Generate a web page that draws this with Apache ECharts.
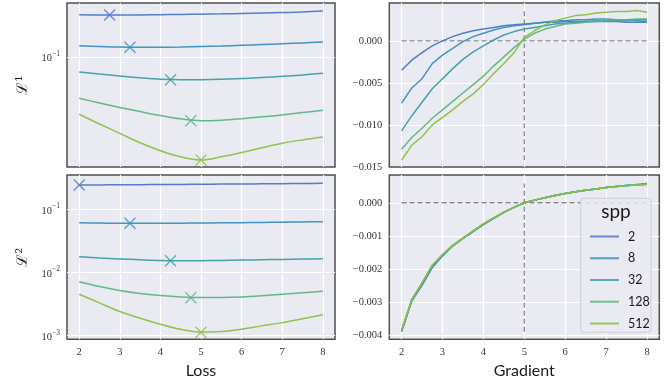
<!DOCTYPE html>
<html><head><meta charset="utf-8">
<script src="https://cdn.jsdelivr.net/npm/echarts@6/dist/echarts.min.js"></script>
<style>html,body{margin:0;padding:0;background:#fff}#c{width:672px;height:386px}</style>
</head><body><div id="c"></div>
<script>
// ---------- data ----------
const sppNames = ['2', '8', '32', '128', '512'];
const xLoss = [2, 2.5, 3, 3.5, 4, 4.5, 5, 5.5, 6, 6.5, 7, 7.5, 8];
const xGrad = [2, 2.25, 2.5, 2.75, 3, 3.25, 3.5, 3.75, 4, 4.25, 4.5, 4.75, 5,
               5.25, 5.5, 5.75, 6, 6.25, 6.5, 6.75, 7, 7.25, 7.5, 7.75, 8];

// L1 loss (top-left)
const l1_2   = [0.2175, 0.2170, 0.2167, 0.2170, 0.2178, 0.2188, 0.2200, 0.2214, 0.2230, 0.2248, 0.2268, 0.2290, 0.2330];
const l1_8   = [0.1231, 0.1213, 0.1200, 0.1196, 0.1198, 0.1202, 0.1213, 0.1225, 0.1240, 0.1256, 0.1275, 0.1296, 0.1318];
const l1_32  = [0.0759, 0.0731, 0.0705, 0.0682, 0.0664, 0.0658, 0.0659, 0.0664, 0.0672, 0.0685, 0.0700, 0.0718, 0.0741];
const l1_128 = [0.0467, 0.0429, 0.0395, 0.0366, 0.0340, 0.0320, 0.0309, 0.0312, 0.0321, 0.0332, 0.0344, 0.0359, 0.0375];
const l1_512 = [0.0348, 0.0291, 0.0245, 0.0206, 0.0178, 0.0159, 0.0150, 0.0159, 0.0172, 0.0188, 0.0204, 0.0217, 0.0229];
const l1MinX = [2.75, 3.25, 4.25, 4.75, 5];
const l1MinY = [0.2166, 0.1196, 0.0657, 0.0309, 0.0150];

// L2 loss (bottom-left)
const l2_2   = [0.2424, 0.2432, 0.2442, 0.2453, 0.2465, 0.2478, 0.2491, 0.2504, 0.2517, 0.2530, 0.2543, 0.2560, 0.2578];
const l2_8   = [0.0614, 0.0607, 0.0602, 0.0601, 0.0602, 0.0604, 0.0607, 0.0611, 0.0615, 0.0620, 0.0625, 0.0631, 0.0637];
const l2_32  = [0.0178, 0.0170, 0.0164, 0.0159, 0.0155, 0.0154, 0.0154, 0.0155, 0.0157, 0.0159, 0.0161, 0.0163, 0.0165];
const l2_128 = [0.00715, 0.00600, 0.00520, 0.00466, 0.00432, 0.00410, 0.00401, 0.00402, 0.00410, 0.00428, 0.00452, 0.00478, 0.00504];
const l2_512 = [0.00452, 0.00330, 0.00242, 0.00189, 0.00152, 0.00126, 0.00114, 0.00117, 0.00127, 0.00143, 0.00161, 0.00186, 0.00214];
const l2MinX = [2, 3.25, 4.25, 4.75, 5];
const l2MinY = [0.2424, 0.0600, 0.01538, 0.00400, 0.00113];

// L1 gradient (top-right)
const g1_2   = [-0.0035, -0.0023, -0.0014, -0.0006, 0.0000, 0.0005, 0.0009, 0.0012, 0.0014, 0.0016, 0.0018, 0.0019, 0.0020,
                0.0021, 0.0022, 0.0022, 0.0023, 0.0023, 0.0023, 0.0023, 0.0023, 0.0023, 0.0022, 0.0022, 0.0022];
const g1_8   = [-0.0074, -0.0056, -0.0045, -0.0027, -0.0017, -0.0009, -0.0001, 0.0005, 0.0009, 0.0013, 0.0016, 0.0018, 0.0019,
                0.0021, 0.0022, 0.0024, 0.0024, 0.0025, 0.0025, 0.0026, 0.0026, 0.0025, 0.0025, 0.0024, 0.0023];
const g1_32  = [-0.0107, -0.0089, -0.0073, -0.0057, -0.0045, -0.0033, -0.0022, -0.0013, -0.0006, 0.0001, 0.0007, 0.0011, 0.0014,
                0.0016, 0.0018, 0.0020, 0.0021, 0.0022, 0.0023, 0.0024, 0.0024, 0.0024, 0.0024, 0.0025, 0.0025];
const g1_128 = [-0.0129, -0.0115, -0.0104, -0.0092, -0.0082, -0.0072, -0.0062, -0.0052, -0.0042, -0.0030, -0.0019, -0.0008, 0.0002,
                0.0009, 0.0014, 0.0017, 0.0020, 0.0021, 0.0022, 0.0023, 0.0024, 0.0025, 0.0025, 0.0026, 0.0026];
const g1_512 = [-0.0142, -0.0124, -0.0114, -0.0100, -0.0091, -0.0082, -0.0072, -0.0063, -0.0052, -0.0039, -0.0027, -0.0014, 0.0004,
                0.0012, 0.0019, 0.0024, 0.0027, 0.0030, 0.0031, 0.0033, 0.0034, 0.0035, 0.0035, 0.0036, 0.0034];

// L2 gradient (bottom-right)
const g2_2   = [-0.00390, -0.00297, -0.00250, -0.00196, -0.00161, -0.00131, -0.00108, -0.00087, -0.00066, -0.00047, -0.00029, -0.00014, 0.00000,
                0.00008, 0.00015, 0.00022, 0.00028, 0.00033, 0.00038, 0.00042, 0.00046, 0.00049, 0.00052, 0.00055, 0.00058];
const g2_8   = [-0.00388, -0.00295, -0.00246, -0.00192, -0.00159, -0.00130, -0.00108, -0.00086, -0.00065, -0.00047, -0.00029, -0.00014, 0.00000,
                0.00008, 0.00015, 0.00022, 0.00028, 0.00033, 0.00038, 0.00042, 0.00046, 0.00049, 0.00052, 0.00054, 0.00057];
const g2_32  = [-0.00387, -0.00293, -0.00244, -0.00190, -0.00158, -0.00130, -0.00107, -0.00086, -0.00065, -0.00047, -0.00029, -0.00014, 0.00000,
                0.00008, 0.00015, 0.00022, 0.00028, 0.00033, 0.00038, 0.00042, 0.00046, 0.00049, 0.00052, 0.00054, 0.00056];
const g2_128 = [-0.00387, -0.00293, -0.00243, -0.00189, -0.00157, -0.00129, -0.00107, -0.00085, -0.00064, -0.00046, -0.00029, -0.00014, 0.00000,
                0.00008, 0.00015, 0.00022, 0.00028, 0.00033, 0.00038, 0.00042, 0.00046, 0.00049, 0.00052, 0.00054, 0.00056];
const g2_512 = [-0.00386, -0.00292, -0.00242, -0.00189, -0.00157, -0.00129, -0.00107, -0.00085, -0.00064, -0.00046, -0.00028, -0.00014, 0.00000,
                0.00008, 0.00015, 0.00022, 0.00028, 0.00033, 0.00038, 0.00042, 0.00046, 0.00049, 0.00052, 0.00054, 0.00056];

const xTicks = [2, 3, 4, 5, 6, 7, 8];
const refX = 5, refY = 0;

// ---------- styles ----------
const colors = ['#4a77c9', '#3a8ec0', '#3a9fa4', '#5ab682', '#8dc042'];
const labelFont = { fontFamily: 'Liberation Serif', fontSize: 10.5, color: '#333' };

const panels = [
  { grid: { left: 67, top: 3, width: 268, height: 164 }, xs: xLoss, sets: [l1_2, l1_8, l1_32, l1_128, l1_512], log: true,
    yMin: 0.01318, yMax: 0.2704, yName: 'ℒ¹', mx: l1MinX, my: l1MinY, xLabel: false },
  { grid: { left: 389.3, top: 3, width: 270, height: 164 }, xs: xGrad, sets: [g1_2, g1_8, g1_32, g1_128, g1_512], log: false,
    yMin: -0.015, yMax: 0.0045, step: 0.005, interval: 0.005, xLabel: false },
  { grid: { left: 67, top: 175, width: 268, height: 164.3 }, xs: xLoss, sets: [l2_2, l2_8, l2_32, l2_128, l2_512], log: true,
    yMin: 0.000877, yMax: 0.349, yName: 'ℒ²', mx: l2MinX, my: l2MinY, xLabel: true, xName: 'Loss' },
  { grid: { left: 389.3, top: 175, width: 270, height: 164.3 }, xs: xGrad, sets: [g2_2, g2_8, g2_32, g2_128, g2_512], log: false,
    yMin: -0.00413, yMax: 0.00084, step: 0.001, xLabel: true, xName: 'Gradient' }
];

const grids = [], xAxes = [], yAxes = [], series = [];
const splitLine = { show: true, showMinLine: false, showMaxLine: false, lineStyle: { color: '#ffffff', width: 1.2 } };

panels.forEach((p, pi) => {
  grids.push(Object.assign({ show: true, backgroundColor: '#eaeaf2', borderColor: '#4f4f4f', borderWidth: 1.5, containLabel: false }, p.grid));
  xAxes.push({
    gridIndex: pi, type: 'value', min: 1.7, max: 8.3, splitNumber: 6,
    axisLine: { show: false }, axisTick: { show: false }, splitLine,
    axisLabel: Object.assign({ show: p.xLabel, margin: 7,
      formatter: v => (Math.abs(v - Math.round(v)) < 1e-6 && xTicks.includes(Math.round(v))) ? String(Math.round(v)) : '' }, labelFont),
    name: p.xName || '', nameLocation: 'middle', nameGap: 24,
    nameTextStyle: { fontFamily: 'Lato', fontSize: 16, color: '#1a1a1a' }
  });
  if (p.log) {
    yAxes.push({
      gridIndex: pi, type: 'log', logBase: 10, min: p.yMin, max: p.yMax,
      axisLine: { show: false }, axisTick: { show: false }, splitLine, minorSplitLine: { show: false },
      axisLabel: Object.assign({ margin: 7,
        formatter: v => { const l = Math.log10(v); if (Math.abs(l - Math.round(l)) < 1e-4) return '{b|10}{s|−' + Math.abs(Math.round(l)) + '}'; return ''; },
        rich: { b: { fontFamily: 'Liberation Serif', fontSize: 10.5, color: '#333', lineHeight: 14, verticalAlign: 'bottom' },
                s: { fontFamily: 'Liberation Serif', fontSize: 7.5, color: '#333', lineHeight: 10, verticalAlign: 'top' } } }, labelFont),
      name: p.yName, nameLocation: 'middle', nameRotate: 90, nameGap: 36,
      nameTextStyle: { fontFamily: 'DejaVu Serif', fontSize: 15, color: '#1a1a1a' }
    });
  } else {
    const ya = {
      gridIndex: pi, type: 'value', min: p.yMin, max: p.yMax,
      axisLine: { show: false }, axisTick: { show: false }, splitLine,
      axisLabel: Object.assign({ margin: 7, showMinLabel: true, showMaxLabel: true,
        formatter: v => { const k = v / p.step; if (Math.abs(k - Math.round(k)) > 1e-6) return ''; const r = Math.round(k) * p.step;
          return (r < -1e-12 ? '−' : '') + Math.abs(r).toFixed(3); } }, labelFont)
    };
    if (p.interval) ya.interval = p.interval;
    yAxes.push(ya);
  }
  // reference dashed lines on gradient panels
  if (!p.log) {
    const all = [].concat(...p.sets);
    const lo = Math.min(...all), hi = Math.max(...all);
    const dash = { color: '#8a8a8a', width: 1.3, type: [5, 3] };
    series.push({ type: 'line', xAxisIndex: pi, yAxisIndex: pi, data: [[p.xs[0], refY], [p.xs[p.xs.length - 1], refY]],
      symbol: 'none', lineStyle: dash, silent: true, z: 2, animation: false });
    series.push({ type: 'line', xAxisIndex: pi, yAxisIndex: pi, data: [[refX, lo], [refX, hi]],
      symbol: 'none', lineStyle: dash, silent: true, z: 2, animation: false });
  }
  p.sets.forEach((arr, i) => {
    series.push({
      type: 'line', name: sppNames[i], xAxisIndex: pi, yAxisIndex: pi,
      data: p.xs.map((x, j) => [x, arr[j]]), symbol: 'none', smooth: p.log ? 0.35 : false,
      lineStyle: { color: colors[i], width: 1.5, opacity: 0.95 }, itemStyle: { color: colors[i] },
      silent: true, z: 3, animation: false
    });
  });
  if (p.log) {
    p.mx.forEach((x, i) => {
      series.push({
        type: 'scatter', name: 'min' + sppNames[i], xAxisIndex: pi, yAxisIndex: pi,
        data: [[x, p.my[i]]], symbol: 'path://M0,0L10,10M10,0L0,10', symbolSize: 11,
        itemStyle: { color: 'rgba(0,0,0,0)', borderColor: colors[i], borderWidth: 1.4 },
        silent: true, z: 4, animation: false
      });
    });
  }
});

const chart = echarts.init(document.getElementById('c'), null, { renderer: 'canvas' });
chart.setOption({
  animation: false,
  backgroundColor: '#ffffff',
  grid: grids, xAxis: xAxes, yAxis: yAxes, series,
  legend: {
    data: sppNames.map((n, i) => ({ name: n, icon: 'rect', itemStyle: { color: colors[i], opacity: 0.85 } })),
    orient: 'vertical', left: 585, top: 225, itemWidth: 29, itemHeight: 2, itemGap: 8.75,
    selectedMode: false, z: 20,
    textStyle: { fontFamily: 'Lato', fontSize: 12.5, lineHeight: 12, color: '#1a1a1a', padding: [0, 0, 0, 4] }
  },
  graphic: [
    { type: 'rect', z: 15, silent: true, shape: { x: 580.7, y: 198.3, width: 70.3, height: 134, r: 3 },
      style: { fill: 'rgba(234,234,242,0.85)', stroke: '#cfcfd6', lineWidth: 1 } },
    { type: 'text', z: 21, silent: true, style: { text: 'spp', x: 616, y: 212, align: 'center', verticalAlign: 'middle',
      fontFamily: 'Lato', fontSize: 19, fill: '#1a1a1a' } }
  ]
});
</script></body></html>
